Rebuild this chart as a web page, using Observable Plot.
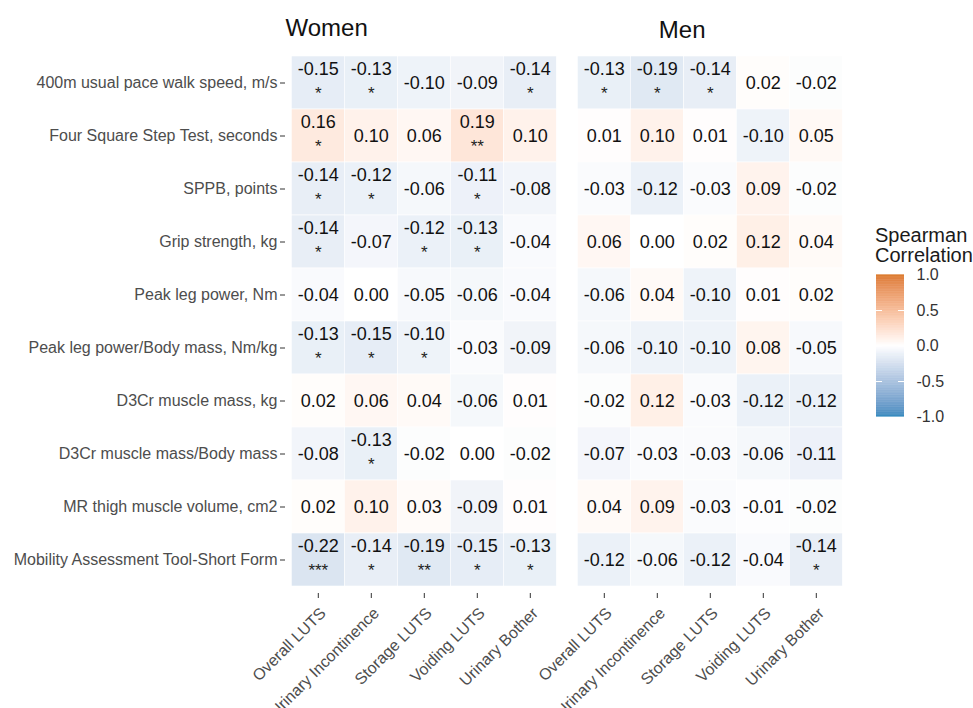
<!DOCTYPE html>
<html>
<head>
<meta charset="utf-8">
<script src="https://cdn.jsdelivr.net/npm/d3@7"></script>
<script src="https://cdn.jsdelivr.net/npm/@observablehq/plot@0.6"></script>
<style>
  html, body { margin: 0; padding: 0; background: #fff; }
  #wrap { position: relative; width: 973px; height: 708px; overflow: hidden; font-family: "Liberation Sans", Arial, Helvetica, sans-serif; }
  #main { position: absolute; left: 0; top: 0; }
  #legend { position: absolute; left: 860px; top: 215px; }
  #legtitle { position: absolute; left: 875px; top: 225px; font-size: 20px; line-height: 20px; color: #1a1a1a; }
</style>
</head>
<body>
<div id="wrap">
  <div id="main"></div>
  <div id="legtitle">Spearman<br>Correlation</div>
  <div id="legend"></div>
</div>
<script>
const measures = [
  "400m usual pace walk speed, m/s",
  "Four Square Step Test, seconds",
  "SPPB, points",
  "Grip strength, kg",
  "Peak leg power, Nm",
  "Peak leg power/Body mass, Nm/kg",
  "D3Cr muscle mass, kg",
  "D3Cr muscle mass/Body mass",
  "MR thigh muscle volume, cm2",
  "Mobility Assessment Tool-Short Form"
];
const outcomes = ["Overall LUTS", "Urinary Incontinence", "Storage LUTS", "Voiding LUTS", "Urinary Bother"];
const sexes = ["Women", "Men"];

const womenR = [
  [-0.15, -0.13, -0.10, -0.09, -0.14],
  [ 0.16,  0.10,  0.06,  0.19,  0.10],
  [-0.14, -0.12, -0.06, -0.11, -0.08],
  [-0.14, -0.07, -0.12, -0.13, -0.04],
  [-0.04,  0.00, -0.05, -0.06, -0.04],
  [-0.13, -0.15, -0.10, -0.03, -0.09],
  [ 0.02,  0.06,  0.04, -0.06,  0.01],
  [-0.08, -0.13, -0.02,  0.00, -0.02],
  [ 0.02,  0.10,  0.03, -0.09,  0.01],
  [-0.22, -0.14, -0.19, -0.15, -0.13]
];
const womenSig = [
  ["*", "*", "", "", "*"],
  ["*", "", "", "**", ""],
  ["*", "*", "", "*", ""],
  ["*", "", "*", "*", ""],
  ["", "", "", "", ""],
  ["*", "*", "*", "", ""],
  ["", "", "", "", ""],
  ["", "*", "", "", ""],
  ["", "", "", "", ""],
  ["***", "*", "**", "*", "*"]
];
const menR = [
  [-0.13, -0.19, -0.14,  0.02, -0.02],
  [ 0.01,  0.10,  0.01, -0.10,  0.05],
  [-0.03, -0.12, -0.03,  0.09, -0.02],
  [ 0.06,  0.00,  0.02,  0.12,  0.04],
  [-0.06,  0.04, -0.10,  0.01,  0.02],
  [-0.06, -0.10, -0.10,  0.08, -0.05],
  [-0.02,  0.12, -0.03, -0.12, -0.12],
  [-0.07, -0.03, -0.03, -0.06, -0.11],
  [ 0.04,  0.09, -0.03, -0.01, -0.02],
  [-0.12, -0.06, -0.12, -0.04, -0.14]
];
const menSig = [
  ["*", "*", "*", "", ""],
  ["", "", "", "", ""],
  ["", "", "", "", ""],
  ["", "", "", "", ""],
  ["", "", "", "", ""],
  ["", "", "", "", ""],
  ["", "", "", "", ""],
  ["", "", "", "", ""],
  ["", "", "", "", ""],
  ["", "", "", "", "*"]
];
const legendTicks = [-1, -0.5, 0, 0.5, 1];

// build table
const table = [];
[[womenR, womenSig, "Women"], [menR, menSig, "Men"]].forEach(([R, S, sex]) => {
  measures.forEach((m, i) => {
    outcomes.forEach((o, j) => {
      table.push({sex, measure: m, outcome: o, r: R[i][j], stars: S[i][j]});
    });
  });
});

const colorScale = {
  type: "linear",
  domain: [-1, 0, 1],
  range: ["#0072B2", "#ffffff", "#D55E00"],
  interpolate: "lab"
};
const fmt = d => d.toFixed(2);
const font = "Liberation Sans, Arial, Helvetica, sans-serif";

const main = Plot.plot({
  width: 973,
  height: 708,
  marginLeft: 284.7,
  marginRight: 124.7,
  marginTop: 48.7,
  marginBottom: 115,
  style: {fontFamily: font, background: "white"},
  fx: {domain: sexes, paddingInner: 0.0294, paddingOuter: 0, axis: null},
  x: {domain: outcomes, padding: 0, insetLeft: 5.3, insetRight: 5.3, axis: null},
  y: {domain: measures, padding: 0, insetTop: 5.3, insetBottom: 5.3, axis: null},
  color: colorScale,
  marks: [
    Plot.cell(table, {x: "outcome", y: "measure", fx: "sex", fill: "r", fillOpacity: 0.8, stroke: "white", strokeWidth: 0.6}),
    Plot.text(table.filter(d => !d.stars), {x: "outcome", y: "measure", fx: "sex", text: d => fmt(d.r), fontSize: 18, fill: "#111"}),
    Plot.text(table.filter(d => d.stars), {x: "outcome", y: "measure", fx: "sex", text: d => fmt(d.r), fontSize: 18, fill: "#111", dy: -13.5}),
    Plot.text(table.filter(d => d.stars), {x: "outcome", y: "measure", fx: "sex", text: "stars", fontSize: 17, fill: "#222", dy: 10.5}),
    Plot.axisY({tickSize: 5, tickPadding: 3, fontSize: 16, stroke: "#333", fill: "#4d4d4d", label: null}),
    Plot.axisX({tickSize: 5, tickPadding: 3, tickRotate: -45, fontSize: 16, stroke: "#333", fill: "#4d4d4d", label: null}),
    Plot.text([{sex: "Women"}], {fx: "sex", text: "sex", frameAnchor: "top-left", textAnchor: "start", lineAnchor: "middle", fontSize: 24, fill: "#111", dy: -21, dx: 0}),
    Plot.text([{sex: "Men"}], {fx: "sex", text: "sex", frameAnchor: "top-left", textAnchor: "start", lineAnchor: "middle", fontSize: 24, fill: "#111", dy: -18.4, dx: 87.3})
  ]
});
document.getElementById("main").appendChild(main);

// shift rotated x tick labels (text only) to mimic top-right anchoring
main.querySelectorAll('[aria-label="x-axis tick label"] text').forEach(t => {
  const tr = t.getAttribute("transform") || "";
  t.setAttribute("transform", "translate(5,9) " + tr);
});

const legendSteps = d3.range(-1, 1, 0.01);
const legend = Plot.plot({
  width: 113,
  height: 222,
  marginLeft: 16,
  marginRight: 69,
  marginTop: 59.5,
  marginBottom: 20.5,
  style: {fontFamily: font, background: "transparent"},
  y: {domain: [-1, 1], axis: null},
  color: colorScale,
  marks: [
    Plot.rect(legendSteps, {y1: d => d, y2: d => d + 0.0105, fill: d => d + 0.005}),
    Plot.tickY(legendTicks.slice(1, 4), {y: d => d, stroke: "white", strokeWidth: 1, insetRight: 22}),
    Plot.tickY(legendTicks.slice(1, 4), {y: d => d, stroke: "white", strokeWidth: 1, insetLeft: 22}),
    Plot.axisY(legendTicks, {anchor: "right", tickSize: 0, tickPadding: 12, tickFormat: d => d.toFixed(1), fontSize: 16, fill: "#333", label: null})
  ]
});
document.getElementById("legend").appendChild(legend);
</script>
</body>
</html>
